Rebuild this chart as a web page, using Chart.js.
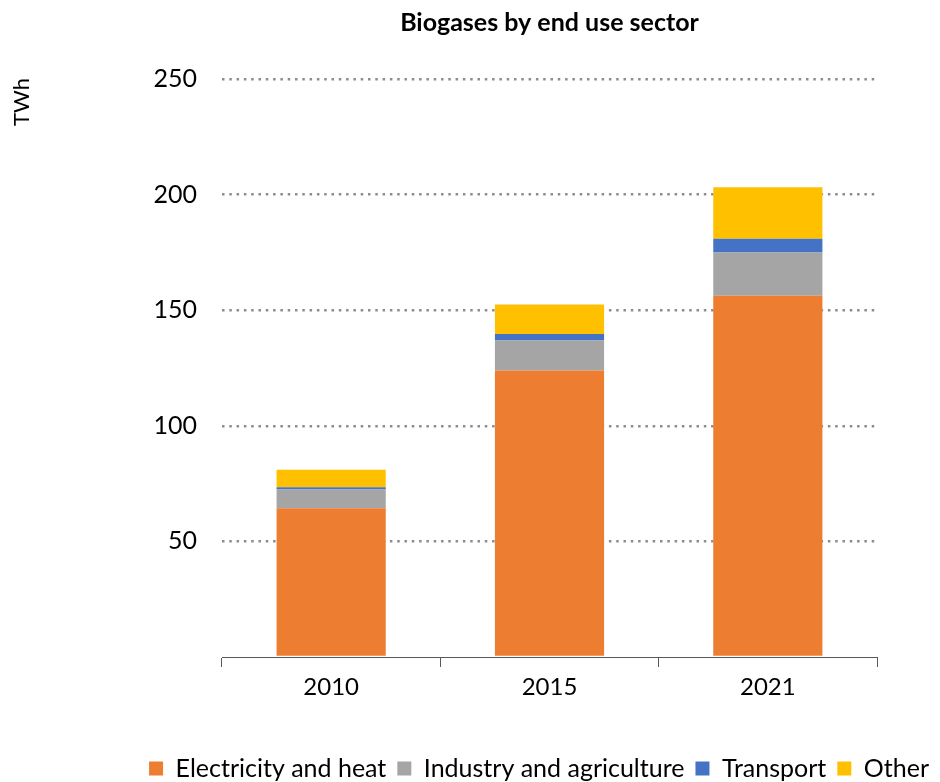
<!DOCTYPE html>
<html>
<head>
<meta charset="utf-8">
<script src="https://cdn.jsdelivr.net/npm/chart.js@4"></script>
<style>
    body { margin: 0; background: #fff; }
    canvas { display: block; }
</style>
</head>
<body>
<canvas id="chart" width="940" height="782"></canvas>
<script>
const years = ["2010", "2015", "2021"];
const electricityHeat = [64.3, 123.9, 156.2];
const industryAgriculture = [8.1, 13.0, 18.8];
const transport = [1.0, 2.8, 5.9];
const other = [7.6, 12.8, 22.3];
const yTicks = [50, 100, 150, 200, 250];

const FONT = "Lato";

// title over the plot area and the rotated unit label near the top left
const extraText = {
    id: "extraText",
    afterDraw(chart) {
        const ctx = chart.ctx;
        const area = chart.chartArea;
        ctx.save();
        ctx.fillStyle = "#000";
        ctx.textAlign = "center";
        ctx.textBaseline = "middle";
        ctx.font = `bold 25px ${FONT}`;
        ctx.fillText("Biogases by end use sector", (area.left + area.right) / 2, 23);

        ctx.translate(22, 102);
        ctx.rotate(-Math.PI / 2);
        ctx.font = `22px ${FONT}`;
        ctx.fillText("TWh", 0, 0);
        ctx.restore();
    }
};

function makeDataset(label, data, color) {
    return {
        label: label,
        data: data,
        backgroundColor: color,
        borderWidth: 0,
        barPercentage: 1,
        categoryPercentage: 0.5
    };
}

new Chart(document.getElementById("chart"), {
    type: "bar",
    data: {
        labels: years,
        datasets: [
            makeDataset("Electricity and heat", electricityHeat, "#ED7D31"),
            makeDataset("Industry and agriculture", industryAgriculture, "#A5A5A5"),
            makeDataset("Transport", transport, "#4472C4"),
            makeDataset("Other", other, "#FFC000")
        ]
    },
    options: {
        responsive: false,
        animation: false,
        layout: {
            padding: { top: 79, right: 0, bottom: -9, left: 0 }
        },
        scales: {
            x: {
                stacked: true,
                afterFit: scale => { scale.height = 88; },
                grid: {
                    display: true,
                    offset: true,
                    drawOnChartArea: false,
                    drawTicks: true,
                    tickLength: 10,
                    color: "#595959"
                },
                border: { display: true, color: "#595959", width: 1 },
                ticks: {
                    color: "#000",
                    padding: 6,
                    font: { family: FONT, size: 24 }
                }
            },
            y: {
                stacked: true,
                min: 0,
                max: 250,
                afterFit: scale => { scale.width = 222; },
                afterBuildTicks: scale => {
                    scale.ticks = [0, ...yTicks].map(v => ({ value: v }));
                },
                grid: {
                    drawTicks: false,
                    lineWidth: 2.5,
                    color: c => c.tick && c.tick.value === 0 ? "rgba(0,0,0,0)" : "#8c8c8c"
                },
                border: { display: false, dash: [2.5, 4.8] },
                ticks: {
                    color: "#000",
                    padding: 25,
                    font: { family: FONT, size: 25 },
                    callback: v => v === 0 ? "" : v
                }
            },
            yRight: {
                position: "right",
                display: true,
                afterFit: scale => { scale.width = 63; },
                grid: { display: false },
                border: { display: false },
                ticks: { display: false }
            }
        },
        plugins: {
            title: { display: false },
            tooltip: { enabled: false },
            legend: {
                position: "bottom",
                align: "end",
                labels: {
                    boxWidth: 14,
                    boxHeight: 14,
                    padding: 11,
                    color: "#000",
                    font: { family: FONT, size: 25 }
                }
            }
        }
    },
    plugins: [extraText]
});
</script>
</body>
</html>
